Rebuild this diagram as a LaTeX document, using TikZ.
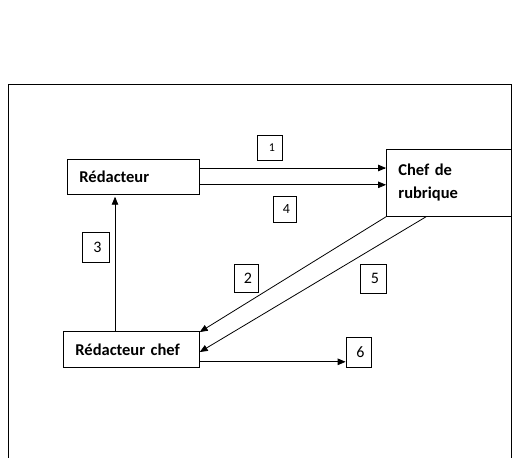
\documentclass[tikz,border=0pt]{standalone}
\usepackage{fontspec}
\setmainfont{Carlito}
\usetikzlibrary{arrows,calc}

\begin{document}
\begin{tikzpicture}[%
    x=1pt, y=-1pt,              % work in picture pixels, y going down
    >=triangle 45,              % small filled arrow heads
    line width=0.8pt,
    ]
% -------------------------------------------------
% Box styles
\tikzset{
  base/.style={draw, rectangle, inner sep=0pt},
  actor/.style={base, anchor=north west, inner xsep=12pt, align=left,
                font={\fontsize{16.5}{23}\selectfont\bfseries}},
  numbox/.style={base, font={\fontsize{16}{18}\selectfont}},
  flow/.style={->, draw},
}
\useasboundingbox (0,0) rectangle (517,458);
% outer frame (bottom edge is cut off)
\draw (8,458) -- (8,84) -- (511,84) -- (511,458);

% -------------------------------------------------
% The three actors
\node [actor, minimum width=132pt, minimum height=35pt, text width=108pt]
  (red) at (67,159) {Rédacteur};
\node [actor, minimum width=125pt, minimum height=67pt, text width=101pt]
  (chef) at (386,149) {Chef de\\rubrique};
\node [actor, minimum width=136pt, minimum height=36pt, text width=112pt]
  (rchef) at (63,331) {Rédacteur chef};

% The numbered steps
\node [numbox, minimum width=25pt, minimum height=25pt,
       font={\fontsize{12}{14}\selectfont}, text depth=-3pt] (n1) at (269.5,147.5) {\hspace*{5pt}1};
\node [numbox, minimum width=24pt, minimum height=28pt] (n2) at (246,278) {\hspace*{4pt}2};
\node [numbox, minimum width=27pt, minimum height=30pt] (n3) at (95.5,247) {\hspace*{4pt}3};
\node [numbox, minimum width=23pt, minimum height=26pt,
       font={\fontsize{14}{16}\selectfont}, text depth=-3pt] (n4) at (284.5,209) {\hspace*{4pt}4};
\node [numbox, minimum width=26pt, minimum height=29pt] (n5) at (373,278.5) {\hspace*{4pt}5};
\node [numbox, minimum width=25pt, minimum height=30pt] (n6) at (358.5,352) {\hspace*{4pt}6};

% -------------------------------------------------
% Connectors
\draw [flow] ([yshift=-9pt]red.north east) coordinate (s1) -- (s1 -| chef.west);
\draw [flow] ([yshift=10pt]red.south east) coordinate (s4) -- (s4 -| chef.west);
\draw [flow] (chef.south west) -- ([yshift=-1pt]rchef.north east);
\draw [flow] ([xshift=40pt]chef.south west) -- ([yshift=-21pt]rchef.north east);
\draw [flow] ([xshift=52pt]rchef.north west) -- ([xshift=48pt,yshift=-2pt]red.south west);
\draw [flow] ([yshift=6pt]rchef.south east) coordinate (s6) -- (s6 -| n6.west);
% -------------------------------------------------
\end{tikzpicture}
\end{document}
